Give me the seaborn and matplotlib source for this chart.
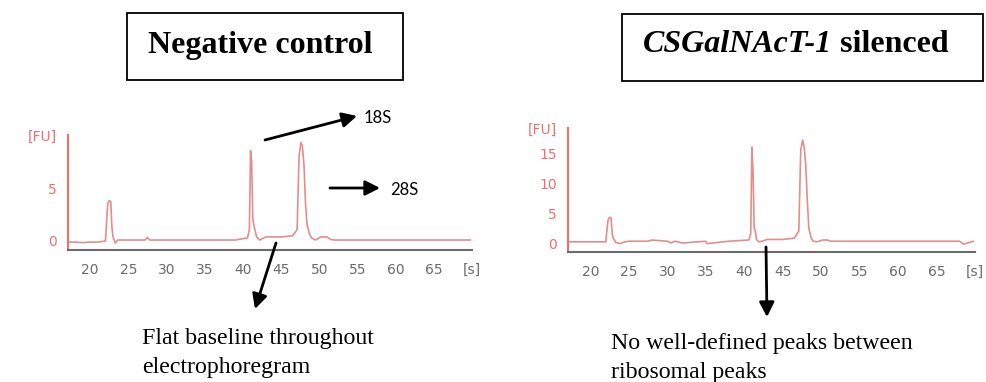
import pandas as pd
import matplotlib.pyplot as plt
import seaborn as sns
from matplotlib.patches import Rectangle, FancyArrowPatch

# electropherogram traces (time [s], fluorescence [FU])
time_ctrl = [17.2, 18, 19, 20, 21, 22.0, 22.3, 22.5, 22.7, 22.85, 23.0, 23.3, 23.6, 25, 27.2,
             27.5, 27.8, 30, 35, 39, 40.6, 40.85, 41.0, 41.15, 41.3, 41.5, 41.8, 42.2, 43, 45,
             46.5, 47.1, 47.35, 47.6, 47.8, 48.0, 48.2, 48.4, 48.7, 49.0, 49.5, 50.2, 51.0, 51.5,
             52, 55, 60, 65, 69.8]
fu_ctrl = [-0.2, -0.2, -0.25, -0.2, -0.2, -0.1, 3.5, 3.8, 3.7, 1.2, 0.3, -0.3, 0.0, 0.0, 0.0,
           0.25, 0.0, 0.0, 0.0, 0.0, 0.2, 1.0, 8.6, 7.5, 2.0, 1.2, 0.3, 0.0, 0.3, 0.3,
           0.4, 1.0, 8.0, 9.4, 9.0, 7.2, 3.5, 1.5, 0.6, 0.2, 0.0, 0.3, 0.3, 0.05,
           0.0, 0.0, 0.0, 0.0, 0.0]

time_sil = [17.2, 19, 21, 22.0, 22.3, 22.5, 22.7, 22.85, 23.0, 23.3, 23.8, 24.3, 25, 27.5, 28,
            30, 30.5, 31, 32, 35, 35.2, 38, 40.6, 40.85, 41.0, 41.15, 41.3, 41.45, 41.6, 41.9,
            42.3, 43, 45, 46.5, 47.1, 47.35, 47.6, 47.8, 48.0, 48.2, 48.4, 48.7, 49.0, 49.5,
            50.2, 50.8, 51.3, 52, 55, 60, 65, 68, 68.5, 69.8]
fu_sil = [0.2, 0.2, 0.2, 0.2, 3.8, 4.3, 4.2, 1.5, 0.8, 0.1, -0.1, 0.1, 0.3, 0.3, 0.5,
          0.3, 0.0, 0.3, 0.0, 0.3, -0.1, 0.3, 0.5, 1.5, 16.0, 12.0, 2.5, 2.0, 0.6, 0.2,
          0.3, 0.6, 0.6, 0.8, 2.0, 15.5, 17.2, 16.0, 13.0, 7.2, 2.5, 0.8, 0.3, 0.2,
          0.5, 0.5, 0.3, 0.3, 0.3, 0.3, 0.3, 0.3, -0.2, 0.3]

x_ticks = [20, 25, 30, 35, 40, 45, 50, 55, 60, 65, 70]
x_labels = ["20", "25", "30", "35", "40", "45", "50", "55", "60", "65", "[s]"]
y_ticks_ctrl = [0, 5]
y_ticks_sil = [0, 5, 10, 15]

W, H = 987, 382
TRACE = "#e48d8d"
PINK = "#ef6f6f"
GREY = "#6b6b6b"

sns.set_style("white")
plt.rcParams["text.color"] = "black"
fig = plt.figure(figsize=(W / 100, H / 100), dpi=100)


def fx(px):
    return px / W


def fy(py):
    return 1 - py / H


def panel(rect, t, fu, yticks, ylim):
    ax = fig.add_axes(rect)
    df = pd.DataFrame({"t": t, "fu": fu})
    sns.lineplot(data=df, x="t", y="fu", ax=ax, color=TRACE, lw=1.2, estimator=None)
    ax.set_xlim(17.1, 70)
    ax.set_ylim(*ylim)
    ax.set_xticks(x_ticks)
    ax.set_xticklabels(x_labels, family="DejaVu Sans")
    # top tick of the y axis carries the unit label
    ax.set_yticks(yticks + [ylim[1]])
    ax.set_yticklabels([str(v) for v in yticks] + ["[FU]"], family="DejaVu Sans")
    ax.set_xlabel("")
    ax.set_ylabel("")
    for s in ["top", "right"]:
        ax.spines[s].set_visible(False)
    ax.spines["left"].set_color(PINK)
    ax.spines["left"].set_linewidth(1.5)
    ax.spines["bottom"].set_color(GREY)
    ax.spines["bottom"].set_linewidth(1.5)
    ax.tick_params(axis="y", colors=PINK, length=6, width=1.5, labelsize=10, pad=2)
    ax.tick_params(axis="x", colors=GREY, length=6, width=1.5, labelsize=10, pad=3)
    return ax


panel([fx(68), fy(250), fx(404), (250 - 135) / H], time_ctrl, fu_ctrl, y_ticks_ctrl, (-0.96, 10.1))
panel([fx(568), fy(252), fx(407), (252 - 128) / H], time_sil, fu_sil, y_ticks_sil, (-1.5, 19.2))

# title boxes
fig.add_artist(Rectangle((fx(127), fy(80)), fx(276), (80 - 13) / H, transform=fig.transFigure,
                         fill=False, ec="black", lw=1.3))
fig.add_artist(Rectangle((fx(622), fy(81)), fx(361), (81 - 14) / H, transform=fig.transFigure,
                         fill=False, ec="black", lw=1.3))
serif = ["Liberation Serif", "DejaVu Serif"]
fig.text(fx(148), fy(45), "Negative control", family=serif, fontsize=23, fontweight="bold",
         ha="left", va="center")
t1 = fig.text(fx(643), fy(45), "CSGalNAcT-1", family=serif, fontsize=23, fontweight="bold",
              fontstyle="italic", ha="left", va="center")
fig.canvas.draw()
bb = t1.get_window_extent(fig.canvas.get_renderer())
fig.text(bb.x1 / W, fy(45), " silenced", family=serif, fontsize=23, fontweight="bold",
         ha="left", va="center")


def arrow(x0, y0, x1, y1):
    fig.add_artist(FancyArrowPatch((fx(x0), fy(y0)), (fx(x1), fy(y1)), transform=fig.transFigure,
                                   arrowstyle="-|>,head_length=5.5,head_width=2.8", lw=2,
                                   color="black", mutation_scale=1.6, shrinkA=0, shrinkB=0))


arrow(265, 140, 357, 116)
arrow(330, 188, 380, 188)
arrow(276, 243, 255, 309)
arrow(766, 247, 767, 317)

sans = ["Lato", "DejaVu Sans"]
fig.text(fx(364), fy(118), "18S", family=sans, fontsize=12, ha="left", va="center")
fig.text(fx(390), fy(190), "28S", family=sans, fontsize=12, ha="left", va="center")

fig.text(fx(142), fy(353), "Flat baseline throughout\nelectrophoregram", family=serif,
         fontsize=17.2, ha="left", va="center", linespacing=1.55)
fig.text(fx(611), fy(358), "No well-defined peaks between\nribosomal peaks", family=serif,
         fontsize=17.2, ha="left", va="center", linespacing=1.55)

fig.savefig("out.png", dpi=100)
plt.close(fig)
